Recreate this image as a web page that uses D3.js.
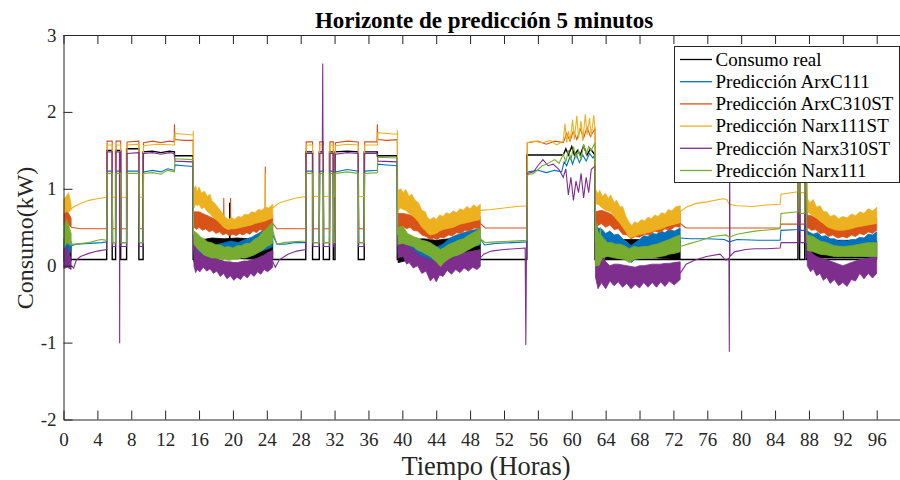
<!DOCTYPE html>
<html>
<head>
<meta charset="utf-8">
<script src="https://cdn.jsdelivr.net/npm/d3@7"></script>
<style>
  body { margin: 0; background: #fff; }
  svg { display: block; }
  text { font-family: "Liberation Serif", "Times New Roman", serif; fill: #262626; }
</style>
</head>
<body>
<svg id="chart" width="900" height="480"></svg>
<script>
// ---- data (hours, kW); null splits a trace where its noisy band takes over ----
const xTickValues = [0, 4, 8, 12, 16, 20, 24, 28, 32, 36, 40, 44, 48, 52, 56, 60, 64, 68, 72, 76, 80, 84, 88, 92, 96];
const yTickValues = [-2, -1, 0, 1, 2, 3];
const seriesNames = ["Consumo real", "Predicción ArxC111", "Predicción ArxC310ST",
                     "Predicción Narx111ST", "Predicción Narx310ST", "Predicción Narx111"];

// Consumo real
const realLine = [[0.9,0.08],[5.1,0.08],[5.1,1.5],[5.75,1.5],[5.75,0.08],[6.15,0.08],[6.15,1.5],[6.75,1.5],[6.75,0.08],[7.45,0.08],[7.45,1.52],[8.9,1.52],[8.9,0.08],[9.4,0.08],[9.4,1.48],[10.5,1.49],[11.5,1.47],[12.5,1.49],[13.1,1.48],[13.1,1.43],[15.3,1.43],[15.3,0.08],
  [19.6,0.1],[19.62,0.82],[19.65,0.1],[24.7,0.08],[28.6,0.08],[28.6,1.48],[29.4,1.48],[29.4,0.08],[30.2,0.08],[30.2,1.48],[30.67,1.48],[30.67,0.08],[31.4,0.08],[31.4,1.48],[31.85,1.48],[31.85,0.08],[32.05,0.08],[32.05,1.48],[33.5,1.49],[34.8,1.48],[34.8,0.08],[35.5,0.08],[35.5,1.48],[37.05,1.48],[37.05,1.43],[39.4,1.43],[39.4,0.08],
  [49.2,0.08],[54.7,0.08],[54.7,1.44],[59,1.44],[59.3,1.52],[59.6,1.44],[60,1.55],[60.3,1.44],[60.7,1.5],[61,1.44],[61.4,1.56],[61.8,1.44],[62.2,1.52],[62.75,1.44],[62.75,0.08],
  [72.8,0.08],[86.7,0.08],[86.7,1.45],[86.9,1.45],[86.9,0.08],[87.5,0.08],[87.5,1.45],[87.7,1.45],[87.7,0.08],[96,0.08]];
const realBands = [
  [[0,0.05,0.3],[0.45,0.06,0.34],[0.9,0.06,0.25]],
  [[15.4,0.04,0.3],[16.5,0.08,0.34],[17.5,0.1,0.36],[19,0.1,0.35],[20.5,0.1,0.36],[22,0.1,0.35],[23.5,0.1,0.36],[24.7,0.08,0.32]],
  [[39.5,0.04,0.32],[41,0.08,0.34],[42.5,0.1,0.35],[44,0.08,0.33],[45.5,0.1,0.35],[47,0.1,0.35],[49.2,0.08,0.33]],
  [[62.8,0.05,0.3],[64,0.08,0.33],[65.5,0.1,0.34],[67,0.1,0.34],[68.5,0.1,0.34],[70,0.1,0.35],[72.8,0.08,0.33]],
  [[87.8,0.08,0.32],[89.5,0.1,0.33],[91,0.1,0.33],[93,0.1,0.33],[94.5,0.1,0.33],[96,0.08,0.32]]];

// Predicción ArxC111
const arxc111Line = [[0.9,0.26],[1.5,0.28],[3,0.29],[4.5,0.3],[5.1,0.31],[5.15,1.23],[5.75,1.23],[5.8,0.3],[6.15,0.3],[6.2,1.23],[6.75,1.23],[6.8,0.3],[7.45,0.3],[7.5,1.23],[8.9,1.23],[8.95,0.3],[9.4,0.3],[9.45,1.22],[10.5,1.24],[11.5,1.22],[12.3,1.26],[13.1,1.24],[13.15,1.31],[14.2,1.3],[15.3,1.29],[15.35,0.3], null,
  [24.7,0.4],[25.2,0.28],[26.2,0.28],[27.2,0.3],[28.6,0.3],[28.65,1.23],[29.4,1.23],[29.45,0.3],[30.2,0.3],[30.25,1.23],[30.67,1.23],[30.72,0.3],[31.4,0.3],[31.45,1.23],[31.85,1.23],[31.9,0.3],[32.05,0.3],[32.1,1.22],[33.5,1.25],[34.8,1.23],[34.85,0.3],[35.5,0.3],[35.55,1.23],[37.05,1.24],[37.1,1.32],[38.2,1.31],[39.4,1.3],[39.45,0.35], null,
  [49.2,0.35],[49.7,0.27],[51,0.29],[53,0.3],[54.7,0.31],[54.75,1.22],[56,1.24],[57,1.21],[58,1.24],[58.8,1.22],[59.1,1.35],[59.4,1.3],[59.8,1.42],[60.1,1.32],[60.5,1.46],[60.9,1.34],[61.3,1.44],[61.7,1.36],[62.1,1.46],[62.5,1.4],[62.75,1.45],[62.8,0.4], null,
  [72.8,0.36],[74,0.35],[76,0.35],[78,0.34],[78.6,0.31],[79.5,0.34],[82,0.33],[84.6,0.33],[84.7,0.46],[86.7,0.47],[86.75,1.2],[86.9,1.2],[86.95,0.46],[87.5,0.46],[87.55,1.2],[87.7,1.2],[87.75,0.4]];
const arxc111Bands = [
  [[0,0.1,0.35],[0.3,0.15,0.4],[0.6,0.12,0.36],[0.9,0.2,0.32]],
  [[15.4,0.15,0.4],[16,0.13,0.3],[17,0.11,0.27],[18,0.1,0.27],[19,0.1,0.3],[19.8,0.1,0.32],[20.6,0.12,0.3],[21.4,0.12,0.34],[22.2,0.15,0.37],[23,0.18,0.42],[23.6,0.2,0.46],[24.2,0.22,0.49],[24.7,0.25,0.5]],
  [[39.5,0.15,0.32],[41,0.14,0.28],[42.5,0.1,0.26],[43.3,0.04,0.26],[44,0.04,0.24],[44.8,0.1,0.28],[45.6,0.18,0.36],[46.4,0.2,0.4],[47.2,0.22,0.43],[48.2,0.25,0.46],[49.2,0.27,0.48]],
  [[62.8,0.3,0.5],[63.5,0.25,0.48],[64,0.24,0.42],[64.5,0.24,0.45],[65,0.22,0.4],[65.5,0.2,0.41],[66,0.15,0.35],[66.5,0.1,0.31],[67,0.04,0.26],[67.6,0.1,0.31],[68.1,0.14,0.35],[68.5,0.16,0.39],[69,0.18,0.38],[69.5,0.2,0.42],[70,0.21,0.41],[70.5,0.22,0.45],[71,0.23,0.43],[71.5,0.24,0.47],[72.1,0.25,0.45],[72.8,0.26,0.49]],
  [[87.8,0.25,0.45],[88.5,0.25,0.41],[89,0.25,0.43],[89.5,0.23,0.38],[90,0.22,0.39],[90.5,0.21,0.35],[91,0.2,0.35],[91.5,0.19,0.32],[92,0.18,0.33],[92.5,0.17,0.32],[93,0.16,0.34],[93.5,0.15,0.34],[94,0.14,0.37],[94.5,0.13,0.36],[95,0.12,0.41],[95.5,0.13,0.4],[96,0.14,0.44]]];

// Predicción ArxC310ST
const arxc310stLine = [[0.9,0.5],[2,0.48],[5.1,0.48],[5.15,1.62],[5.75,1.62],[5.8,0.48],[6.15,0.48],[6.2,1.62],[6.75,1.62],[6.8,0.48],[7.45,0.48],[7.5,1.61],[8.9,1.62],[8.95,0.48],[9.4,0.48],[9.45,1.6],[10.5,1.62],[11.5,1.6],[12.5,1.62],[13.05,1.61],[13.1,1.84],[13.15,1.64],[14.2,1.63],[15.3,1.63],[15.35,0.6], null,
  [18.9,0.5],[18.92,0.88],[18.95,0.45], null, [19.7,0.45],[19.72,0.88],[19.75,0.45], null, [23.8,0.6],[23.82,1.29],[23.85,0.6], null,
  [24.7,0.55],[25.2,0.48],[28.6,0.48],[28.65,1.61],[29.4,1.61],[29.45,0.48],[30.2,0.48],[30.25,1.61],[30.67,1.61],[30.72,0.48],[31.4,0.48],[31.45,1.61],[31.85,1.61],[31.9,0.48],[32.05,0.48],[32.1,1.6],[33.5,1.62],[34.8,1.61],[34.85,0.48],[35.5,0.48],[35.55,1.61],[37.0,1.61],[37.05,1.84],[37.1,1.64],[38.2,1.63],[39.4,1.64],[39.45,0.6], null,
  [49.2,0.55],[49.8,0.49],[54.7,0.49],[54.75,1.6],[56,1.62],[57,1.58],[58,1.62],[59,1.6],[59.4,1.72],[59.8,1.62],[60.2,1.76],[60.6,1.64],[61,1.78],[61.4,1.66],[61.8,1.8],[62.2,1.68],[62.75,1.78],[62.8,0.6], null,
  [72.8,0.55],[73.5,0.49],[80,0.49],[84.6,0.49],[84.7,0.54],[86.7,0.54],[86.75,1.6],[86.9,1.6],[86.95,0.54],[87.5,0.54],[87.55,1.6],[87.7,1.6],[87.75,0.6]];
const arxc310stBands = [
  [[0,0.52,0.68],[0.4,0.55,0.72],[0.9,0.5,0.62]],
  [[15.4,0.5,0.7],[15.7,0.47,0.7],[16,0.5,0.7],[16.4,0.46,0.68],[16.8,0.48,0.66],[17.2,0.44,0.64],[17.6,0.46,0.62],[18,0.42,0.6],[18.4,0.44,0.58],[18.8,0.4,0.55],[19.2,0.42,0.52],[19.6,0.39,0.5],[20,0.41,0.5],[20.4,0.39,0.51],[20.8,0.42,0.53],[21.2,0.4,0.53],[21.6,0.43,0.55],[22,0.41,0.56],[22.4,0.45,0.58],[22.8,0.43,0.59],[23.2,0.47,0.61],[23.6,0.45,0.62],[24,0.49,0.64],[24.4,0.47,0.65],[24.7,0.5,0.66]],
  [[39.5,0.5,0.68],[40.1,0.51,0.68],[40.5,0.48,0.67],[40.9,0.5,0.66],[41.3,0.46,0.64],[41.8,0.45,0.6],[42.3,0.4,0.55],[42.8,0.38,0.5],[43.3,0.34,0.45],[43.7,0.36,0.47],[44.1,0.34,0.48],[44.5,0.37,0.5],[44.9,0.36,0.51],[45.4,0.4,0.53],[45.9,0.39,0.55],[46.4,0.43,0.57],[46.9,0.42,0.59],[47.4,0.46,0.6],[47.9,0.45,0.62],[48.5,0.49,0.63],[49.2,0.48,0.64]],
  [[62.8,0.5,0.7],[63.5,0.55,0.72],[64,0.5,0.7],[64.5,0.53,0.68],[65,0.47,0.64],[65.5,0.48,0.6],[66,0.41,0.56],[66.5,0.4,0.52],[67,0.35,0.48],[67.5,0.38,0.5],[68,0.37,0.52],[68.6,0.41,0.55],[69.2,0.4,0.57],[69.8,0.45,0.6],[70.4,0.43,0.62],[71,0.48,0.65],[71.6,0.46,0.67],[72.2,0.51,0.7],[72.8,0.5,0.72]],
  [[87.8,0.5,0.66],[88.3,0.46,0.65],[88.8,0.47,0.62],[89.3,0.42,0.59],[89.8,0.43,0.56],[90.3,0.38,0.54],[90.8,0.4,0.52],[91.4,0.36,0.5],[92,0.38,0.5],[92.5,0.36,0.52],[93,0.4,0.53],[93.5,0.38,0.55],[94,0.42,0.56],[94.5,0.4,0.58],[95,0.44,0.6],[95.5,0.42,0.61],[96,0.46,0.62]]];

// Predicción Narx111ST
const narx111stLine = [[0.9,0.74],[1.3,0.77],[2,0.81],[3,0.85],[4,0.87],[5.1,0.89],[5.15,1.57],[5.75,1.57],[5.8,0.89],[6.15,0.89],[6.2,1.57],[6.75,1.57],[6.8,0.89],[7.45,0.89],[7.5,1.57],[8.9,1.58],[8.95,0.89],[9.4,0.89],[9.45,1.56],[11,1.58],[13.1,1.57],[13.15,1.72],[14.2,1.71],[15.3,1.7],[15.32,1.75],[15.35,0.9], null,
  [23.8,0.7],[23.82,1.2],[23.85,0.7], null,
  [24.7,0.75],[25.5,0.82],[26.5,0.85],[27.5,0.88],[28.6,0.9],[28.65,1.57],[29.4,1.57],[29.45,0.9],[30.2,0.9],[30.25,1.57],[30.67,1.57],[30.72,0.9],[31.4,0.9],[31.45,1.57],[31.85,1.57],[31.9,0.9],[32.05,0.9],[32.1,1.56],[33.5,1.58],[34.8,1.57],[34.85,0.9],[35.5,0.9],[35.55,1.57],[37.05,1.57],[37.1,1.73],[38.2,1.72],[39.4,1.71],[39.42,1.76],[39.45,0.9], null,
  [49.2,0.72],[50.5,0.73],[52,0.75],[53.5,0.77],[54.7,0.78],[54.75,1.6],[55.5,1.62],[56.5,1.6],[57.5,1.63],[58.2,1.57],[58.7,1.6],[59,1.62],[59.2,1.85],[59.4,1.6],[59.6,1.75],[59.8,1.62],[60.1,1.9],[60.3,1.64],[60.6,1.95],[60.8,1.66],[61.1,1.88],[61.3,1.62],[61.6,1.97],[61.8,1.7],[62.1,1.92],[62.3,1.68],[62.6,1.96],[62.75,1.75],[62.8,0.9], null,
  [72.8,0.7],[73.5,0.76],[74.7,0.81],[76,0.83],[77.8,0.87],[78.3,0.86],[78.6,0.8],[79.5,0.78],[81.4,0.77],[83,0.79],[84.6,0.8],[84.7,0.93],[86.7,0.96],[86.75,1.55],[86.9,1.55],[86.95,0.95],[87.5,0.95],[87.55,1.55],[87.7,1.55],[87.75,0.85]];
const narx111stBands = [
  [[0,0.68,0.86],[0.3,0.7,0.9],[0.6,0.7,0.95],[0.9,0.72,0.8]],
  [[15.4,0.75,1.0],[15.6,0.8,1.04],[15.8,0.78,0.96],[16.0,0.8,1.02],[16.3,0.74,0.94],[16.6,0.76,0.97],[17.0,0.7,0.9],[17.3,0.68,0.93],[17.5,0.65,0.84],[17.8,0.62,0.82],[18.2,0.58,0.76],[18.5,0.55,0.72],[18.9,0.5,0.66],[19.2,0.48,0.62],[19.5,0.47,0.6],[19.8,0.48,0.63],[20.2,0.48,0.6],[20.6,0.49,0.64],[21,0.5,0.63],[21.4,0.51,0.67],[21.8,0.52,0.66],[22.2,0.53,0.7],[22.6,0.55,0.69],[23,0.56,0.73],[23.4,0.57,0.72],[23.8,0.58,0.76],[24.2,0.6,0.75],[24.7,0.62,0.8]],
  [[39.5,0.72,0.98],[39.8,0.75,1.0],[40.1,0.73,0.95],[40.4,0.72,0.99],[40.8,0.68,0.9],[41.1,0.66,0.93],[41.5,0.62,0.85],[41.9,0.57,0.82],[42.3,0.5,0.72],[42.7,0.46,0.7],[43.0,0.42,0.62],[43.3,0.4,0.6],[43.7,0.41,0.63],[44,0.42,0.6],[44.4,0.45,0.66],[44.8,0.47,0.64],[45.2,0.48,0.69],[45.6,0.49,0.67],[46,0.5,0.71],[46.4,0.52,0.69],[46.8,0.54,0.74],[47.2,0.55,0.72],[47.6,0.56,0.77],[48,0.57,0.74],[48.4,0.58,0.79],[48.8,0.59,0.76],[49.2,0.6,0.8]],
  [[62.8,0.8,1.0],[63.1,0.8,0.93],[63.3,0.78,0.98],[63.6,0.75,0.9],[64,0.72,0.94],[64.3,0.71,0.87],[64.6,0.7,0.92],[65,0.64,0.82],[65.3,0.6,0.85],[65.7,0.55,0.76],[66,0.5,0.77],[66.4,0.44,0.64],[66.8,0.36,0.56],[67.1,0.37,0.52],[67.4,0.38,0.57],[67.8,0.4,0.55],[68.2,0.41,0.6],[68.6,0.42,0.58],[69,0.43,0.63],[69.4,0.44,0.61],[69.8,0.46,0.66],[70.2,0.47,0.64],[70.6,0.48,0.69],[71,0.5,0.67],[71.4,0.52,0.73],[71.8,0.53,0.71],[72.2,0.54,0.76],[72.8,0.56,0.78]],
  [[87.8,0.7,0.88],[88.1,0.68,0.82],[88.5,0.65,0.86],[88.9,0.62,0.76],[89.3,0.58,0.78],[89.7,0.55,0.7],[90.1,0.51,0.7],[90.5,0.49,0.64],[91,0.47,0.66],[91.5,0.46,0.61],[92,0.46,0.64],[92.5,0.47,0.62],[93,0.48,0.67],[93.5,0.5,0.65],[94,0.51,0.7],[94.5,0.52,0.68],[95,0.53,0.74],[95.5,0.54,0.71],[96,0.55,0.76]]];

// Predicción Narx310ST
const narx310stLine = [[0.9,0.0],[1.2,-0.03],[1.5,0.07],[2,0.12],[3,0.16],[4,0.19],[5.1,0.21],[5.15,1.48],[5.75,1.48],[5.8,0.25],[6.15,0.25],[6.2,1.48],[6.6,1.48],[6.63,-1.01],[6.66,1.47],[6.75,1.48],[6.8,0.25],[7.45,0.25],[7.5,1.46],[8.9,1.47],[8.95,0.25],[9.4,0.25],[9.45,1.46],[10.5,1.47],[11.5,1.45],[12.5,1.47],[13.1,1.46],[13.15,1.36],[15.3,1.35],[15.35,0.2], null,
  [24.7,0.05],[25,-0.02],[25.5,0.08],[26.5,0.15],[27.5,0.19],[28.6,0.21],[28.65,1.46],[29.4,1.46],[29.45,0.25],[30.2,0.25],[30.25,1.46],[30.55,1.46],[30.6,2.63],[30.64,1.46],[30.67,1.46],[30.72,0.25],[31.4,0.25],[31.45,1.46],[31.85,1.46],[31.9,0.25],[32.05,0.25],[32.1,1.45],[33.5,1.47],[34.8,1.46],[34.85,0.25],[35.5,0.25],[35.55,1.46],[37.05,1.46],[37.1,1.36],[39.4,1.35],[39.45,0.25], null,
  [49.2,0.1],[49.6,0.15],[50.5,0.19],[52,0.21],[54.5,0.23],[54.58,-1.03],[54.66,0.3],[54.75,1.2],[55.5,1.22],[56,1.3],[56.6,1.38],[57.2,1.3],[57.8,1.32],[58.5,1.25],[59,1.15],[59.3,1.26],[59.6,0.92],[59.9,1.15],[60.2,0.85],[60.5,1.1],[60.8,0.95],[61.1,1.2],[61.4,0.88],[61.7,1.15],[62,0.95],[62.3,1.25],[62.75,1.3],[62.8,0.0], null,
  [72.8,-0.1],[73.5,0.02],[74.5,0.07],[75.9,0.12],[77.5,0.15],[78.2,0.07],[78.55,0.1],[78.6,-1.12],[78.64,1.5],[78.68,0.12],[79.2,0.18],[80.5,0.21],[81.6,0.22],[83,0.22],[84.6,0.23],[84.7,0.3],[86.7,0.3],[86.75,1.45],[86.9,1.45],[86.95,0.3],[87.5,0.3],[87.55,1.45],[87.7,1.45],[87.75,0.1]];
const narx310stBands = [
  [[0,-0.04,0.2],[0.45,-0.02,0.25],[0.9,-0.05,0.08]],
  [[15.4,0.0,0.38],[15.6,-0.09,0.25],[15.8,-0.05,0.2],[16.1,-0.08,0.16],[16.5,-0.02,0.14],[16.9,-0.07,0.12],[17.3,-0.04,0.1],[17.7,-0.1,0.1],[18.1,-0.07,0.09],[18.5,-0.14,0.08],[18.9,-0.1,0.06],[19.3,-0.17,0.05],[19.7,-0.13,0.05],[20.1,-0.19,0.04],[20.5,-0.15,0.04],[20.9,-0.18,0.05],[21.3,-0.12,0.06],[21.7,-0.16,0.06],[22.1,-0.1,0.07],[22.5,-0.14,0.08],[22.9,-0.08,0.1],[23.3,-0.11,0.12],[23.7,-0.05,0.14],[24.1,-0.08,0.17],[24.7,-0.02,0.2]],
  [[39.5,0.1,0.4],[40.1,0.12,0.38],[40.5,0.02,0.3],[40.8,0.04,0.25],[41.3,-0.03,0.21],[41.8,0.0,0.16],[42.3,-0.1,0.12],[42.8,-0.07,0.1],[43.3,-0.2,0.08],[43.7,-0.15,0.06],[44,-0.21,0.06],[44.4,-0.12,0.09],[44.8,-0.14,0.12],[45.3,-0.06,0.13],[45.8,-0.11,0.14],[46.3,-0.05,0.15],[46.8,-0.09,0.16],[47.3,-0.03,0.17],[47.8,-0.07,0.18],[48.3,-0.02,0.19],[48.8,-0.05,0.2],[49.2,-0.01,0.21]],
  [[62.8,-0.15,0.3],[63.1,-0.3,0.1],[63.5,-0.22,0.2],[64,-0.3,0.05],[64.5,-0.2,0.0],[65,-0.26,0.02],[65.5,-0.21,0.02],[66,-0.28,0.01],[66.5,-0.23,0.0],[67,-0.3,-0.01],[67.5,-0.24,-0.02],[68,-0.29,0.0],[68.5,-0.22,0.0],[69,-0.28,0.01],[69.5,-0.22,0.02],[70,-0.28,0.02],[70.5,-0.21,0.02],[71,-0.27,0.03],[71.5,-0.2,0.03],[72.1,-0.25,0.04],[72.8,-0.18,0.05]],
  [[87.8,0.0,0.22],[88.2,-0.08,0.18],[88.5,-0.04,0.15],[88.9,-0.13,0.12],[89.3,-0.1,0.1],[89.7,-0.19,0.09],[90.1,-0.15,0.08],[90.5,-0.23,0.06],[91,-0.18,0.04],[91.5,-0.26,0.02],[92,-0.22,0.0],[92.5,-0.27,0.02],[93,-0.18,0.04],[93.5,-0.2,0.06],[94,-0.1,0.08],[94.5,-0.17,0.09],[95,-0.1,0.1],[95.5,-0.16,0.11],[96,-0.1,0.12]]];

// Predicción Narx111
const narx111Line = [[0.9,0.28],[1.5,0.28],[3,0.3],[4,0.33],[4.5,0.34],[5.1,0.33],[5.15,1.2],[5.75,1.2],[5.8,0.3],[6.15,0.3],[6.2,1.2],[6.75,1.2],[6.8,0.3],[7.45,0.3],[7.5,1.2],[8.9,1.2],[8.95,0.3],[9.4,0.3],[9.45,1.2],[10.5,1.21],[11.5,1.19],[12.3,1.24],[13.1,1.22],[13.15,1.39],[15.3,1.38],[15.35,0.4], null,
  [24.7,0.45],[25.2,0.28],[26,0.3],[27,0.31],[28.6,0.32],[28.65,1.2],[29.4,1.2],[29.45,0.3],[30.2,0.3],[30.25,1.2],[30.67,1.2],[30.72,0.3],[31.4,0.3],[31.45,1.2],[31.85,1.2],[31.9,0.3],[32.05,0.3],[32.1,1.2],[33.5,1.22],[34.8,1.2],[34.85,0.3],[35.5,0.3],[35.55,1.2],[37.05,1.21],[37.1,1.41],[39.4,1.4],[39.45,0.4], null,
  [49.2,0.35],[49.8,0.3],[51,0.31],[53,0.32],[54.7,0.33],[54.75,1.18],[55.5,1.2],[56,1.25],[56.5,1.3],[57,1.32],[57.5,1.35],[58,1.38],[58.5,1.33],[59,1.45],[59.3,1.35],[59.6,1.5],[59.9,1.38],[60.2,1.55],[60.5,1.4],[60.8,1.5],[61.1,1.38],[61.4,1.58],[61.7,1.45],[62,1.55],[62.3,1.5],[62.75,1.6],[62.8,0.3],
  [63.0,0.55],[63.05,0.05],[63.4,0.5],[63.45,0.1], null,
  [72.8,0.25],[74,0.29],[75,0.32],[76.6,0.38],[78.2,0.4],[78.6,0.37],[79.5,0.41],[81.6,0.45],[84.6,0.48],[84.7,0.68],[86.7,0.7],[86.75,1.2],[86.9,1.2],[86.95,0.68],[87.5,0.68],[87.55,1.2],[87.7,1.2],[87.75,0.3]];
const narx111Bands = [
  [[0,0.22,0.5],[0.4,0.3,0.6],[0.9,0.26,0.42]],
  [[15.4,0.28,0.45],[15.8,0.22,0.42],[16.2,0.18,0.37],[16.6,0.14,0.35],[17,0.12,0.31],[17.5,0.1,0.3],[18,0.1,0.27],[18.5,0.08,0.27],[19,0.08,0.24],[19.5,0.07,0.25],[20,0.08,0.23],[20.5,0.08,0.26],[21,0.1,0.26],[21.5,0.1,0.29],[22,0.12,0.29],[22.5,0.14,0.34],[23,0.17,0.37],[23.5,0.2,0.44],[24,0.25,0.48],[24.4,0.27,0.54],[24.7,0.3,0.56]],
  [[39.5,0.28,0.5],[40.1,0.29,0.51],[40.6,0.27,0.42],[41.3,0.25,0.38],[41.8,0.2,0.36],[42.3,0.18,0.33],[42.8,0.15,0.32],[43.3,0.12,0.3],[44,0.05,0.25],[44.5,-0.01,0.21],[45,0.05,0.24],[45.5,0.09,0.28],[46,0.12,0.3],[46.6,0.14,0.33],[47.2,0.17,0.35],[47.7,0.2,0.39],[48.2,0.23,0.42],[48.7,0.26,0.45],[49.2,0.29,0.48]],
  [[62.8,0.0,0.5],[63.2,0.0,0.42],[63.6,0.1,0.38],[64.2,0.12,0.3],[64.7,0.11,0.3],[65.2,0.1,0.28],[65.7,0.09,0.28],[66.2,0.08,0.26],[66.8,0.04,0.22],[67.3,0.08,0.25],[67.9,0.09,0.24],[68.5,0.1,0.25],[69,0.1,0.25],[69.5,0.1,0.27],[70,0.11,0.28],[70.5,0.12,0.3],[71,0.13,0.32],[71.5,0.15,0.34],[72.1,0.16,0.37],[72.8,0.18,0.4]],
  [[87.8,0.2,0.4],[88.5,0.18,0.38],[89.3,0.15,0.32],[90.1,0.14,0.3],[91,0.12,0.26],[92,0.12,0.25],[93,0.12,0.26],[94,0.12,0.28],[95,0.12,0.3],[96,0.12,0.3]]];

// ---- styling ----
const serif = '"Liberation Serif", "Times New Roman", serif';
const seriesColors = ["#000000", "#0072BD", "#D95319", "#EDB120", "#7E2F8E", "#77AC30"];
const series = [
  { name: seriesNames[0], line: realLine,      bands: realBands,      color: seriesColors[0] },
  { name: seriesNames[1], line: arxc111Line,   bands: arxc111Bands,   color: seriesColors[1] },
  { name: seriesNames[2], line: arxc310stLine, bands: arxc310stBands, color: seriesColors[2] },
  { name: seriesNames[3], line: narx111stLine, bands: narx111stBands, color: seriesColors[3] },
  { name: seriesNames[4], line: narx310stLine, bands: narx310stBands, color: seriesColors[4] },
  { name: seriesNames[5], line: narx111Line,   bands: narx111Bands,   color: seriesColors[5] }
];

const svg = d3.select("#chart");
const plotLeft = 63.5, plotTop = 35, plotBottom = 419.5, pxPerHour = 8.471;
const x = d3.scaleLinear().domain([0, 101]).range([plotLeft, plotLeft + 101 * pxPerHour]);
const y = d3.scaleLinear().domain([-2, 3]).range([plotBottom, plotTop]);

svg.append("defs").append("clipPath").attr("id", "plotClip")
  .append("rect").attr("x", plotLeft).attr("y", plotTop)
  .attr("width", x(101) - plotLeft).attr("height", plotBottom - plotTop);

const plot = svg.append("g").attr("clip-path", "url(#plotClip)");
const lineGen = d3.line().defined(d => d !== null).x(d => x(d[0])).y(d => y(d[1]));
const areaGen = d3.area().x(d => x(d[0])).y0(d => y(d[1])).y1(d => y(d[2]));

series.forEach(s => {
  const g = plot.append("g");
  g.selectAll("path.band").data(s.bands).join("path")
    .attr("class", "band")
    .attr("d", areaGen)
    .attr("fill", s.color)
    .attr("stroke", s.color)
    .attr("stroke-width", 0.8);
  g.append("path").datum(s.line)
    .attr("d", lineGen)
    .attr("fill", "none")
    .attr("stroke", s.color)
    .attr("stroke-width", s.color === "#000000" ? 1.4 : 1.1);
});

// ---- axes ----
const axisColor = "#262626";
const xBottom = svg.append("g").attr("transform", `translate(0,${plotBottom})`)
  .call(d3.axisBottom(x).tickValues(xTickValues).tickSizeInner(-9).tickSizeOuter(0).tickPadding(13));
const xTop = svg.append("g").attr("transform", `translate(0,${plotTop})`)
  .call(d3.axisTop(x).tickValues(xTickValues).tickSizeInner(-9).tickSizeOuter(0).tickFormat(""));
const yLeft = svg.append("g").attr("transform", `translate(${plotLeft},0)`)
  .call(d3.axisLeft(y).tickValues(yTickValues).tickFormat(d => String(d))
    .tickSizeInner(-9).tickSizeOuter(0).tickPadding(7));

[xBottom, xTop, yLeft].forEach(a => {
  a.attr("font-family", null);
  a.select(".domain").attr("stroke", axisColor);
  a.selectAll(".tick line").attr("stroke", axisColor);
  a.selectAll(".tick text").attr("fill", axisColor)
    .style("font-family", serif)
    .style("font-size", "19px");
});

// ---- titles ----
svg.append("text").attr("x", 484).attr("y", 28).attr("text-anchor", "middle")
  .style("font-family", serif).style("font-size", "23px").style("font-weight", "bold").style("fill", "#000")
  .text("Horizonte de predicción 5 minutos");
svg.append("text").attr("x", 486).attr("y", 475).attr("text-anchor", "middle")
  .style("font-family", serif).style("font-size", "26.5px").text("Tiempo (Horas)");
svg.append("text").attr("transform", "translate(33,238) rotate(-90)").attr("text-anchor", "middle")
  .style("font-family", serif).style("font-size", "24px").text("Consumo(kW)");

// ---- legend ----
const legend = svg.append("g");
legend.append("rect").attr("x", 674.5).attr("y", 46.5).attr("width", 225).attr("height", 136)
  .attr("fill", "#fff").attr("stroke", axisColor).attr("stroke-width", 1);
series.forEach((s, i) => {
  const ly = 59.5 + i * 22.2;
  legend.append("line").attr("x1", 680).attr("x2", 712).attr("y1", ly).attr("y2", ly)
    .attr("stroke", s.color).attr("stroke-width", 1.3);
  legend.append("text").attr("x", 715.5).attr("y", ly + 6.3)
    .style("font-family", serif).style("font-size", "19px").style("fill", "#000").text(s.name);
});
</script>
</body>
</html>
